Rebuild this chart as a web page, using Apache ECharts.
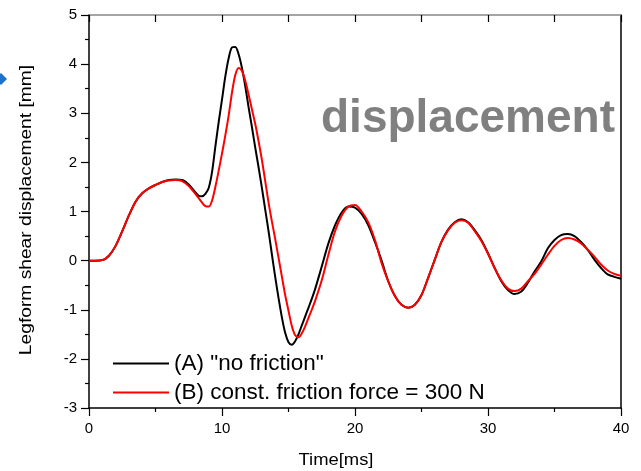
<!DOCTYPE html>
<html>
<head>
<meta charset="utf-8">
<script src="https://cdn.jsdelivr.net/npm/echarts@6/dist/echarts.min.js"></script>
<style>html,body{margin:0;padding:0;background:#fff;}#c{width:641px;height:471px;}</style>
</head>
<body>
<div id="c"></div>
<script>
var time = [0,0.5,1,1.5,2,2.5,3,3.5,4,4.5,5,5.5,6,6.5,7,7.5,
  8,8.25,8.5,8.75,9,9.25,9.5,9.75,10,10.25,10.5,10.75,11,11.25,11.5,11.75,12,12.25,12.5,12.75,13,13.25,13.5,13.75,14,14.25,14.5,14.75,15,15.25,15.5,15.75,16,16.25,16.5,16.75,17,
  17.5,18,18.5,19,19.5,20,20.5,21,21.5,22,22.5,23,23.5,24,24.5,25,25.5,26,26.5,27,27.5,28,28.5,29,29.5,30,30.5,31,31.5,32,32.5,33,33.5,34,34.5,35,35.5,36,36.5,37,37.5,38,38.5,39,39.5,40];
var seriesA = [0,0,0.01,0.1,0.3,0.6,0.92,1.2,1.37,1.47,1.54,1.6,1.64,1.65,1.64,1.55,
  1.39,1.32,1.31,1.36,1.48,1.8,2.32,2.82,3.28,3.75,4.12,4.34,4.35,4.2,3.92,3.55,3.12,2.72,2.3,1.9,1.48,1.04,0.6,0.13,-0.33,-0.76,-1.15,-1.47,-1.66,-1.71,-1.64,-1.5,-1.32,-1.14,-0.96,-0.78,-0.58,
  -0.12,0.35,0.72,0.98,1.1,1.08,0.95,0.72,0.38,0.0,-0.42,-0.72,-0.9,-0.96,-0.9,-0.7,-0.35,0.02,0.38,0.63,0.78,0.84,0.78,0.62,0.42,0.15,-0.15,-0.42,-0.6,-0.68,-0.63,-0.45,-0.22,-0.02,0.25,0.42,0.52,0.54,0.5,0.38,0.22,0.02,-0.15,-0.28,-0.33,-0.37];
var seriesB = [0,0,0.01,0.1,0.3,0.6,0.92,1.2,1.37,1.47,1.54,1.6,1.63,1.64,1.62,1.52,
  1.36,1.27,1.18,1.11,1.1,1.22,1.5,1.83,2.18,2.55,2.95,3.42,3.78,3.92,3.86,3.66,3.38,3.08,2.78,2.43,2.05,1.62,1.18,0.8,0.44,0.06,-0.32,-0.7,-1.02,-1.33,-1.52,-1.56,-1.48,-1.34,-1.17,-1.0,-0.82,
  -0.4,0.12,0.6,0.92,1.1,1.13,1.0,0.78,0.42,-0.05,-0.42,-0.72,-0.9,-0.96,-0.9,-0.7,-0.35,0.02,0.38,0.62,0.77,0.82,0.77,0.6,0.4,0.14,-0.15,-0.4,-0.57,-0.62,-0.57,-0.42,-0.27,-0.08,0.12,0.3,0.42,0.46,0.43,0.35,0.22,0.08,-0.08,-0.2,-0.27,-0.31];
var xTicks = [0,10,20,30,40];
var yTicks = [-3,-2,-1,0,1,2,3,4,5];
var legendNames = ['(A) "no friction"', '(B) const. friction force = 300 N'];
var xName = 'Time[ms]';
var yName = 'Legform shear displacement [mm]';
var overlayText = 'displacement';

function pairs(v){ return time.map(function(t,i){ return [t, v[i]]; }); }

var chart = echarts.init(document.getElementById('c'), null, {renderer:'canvas'});
var font = 'Liberation Sans, Arial, sans-serif';
chart.setOption({
  animation:false,
  backgroundColor:'#fff',
  grid:{left:89, right:20, top:15, bottom:63, containLabel:false},
  legend:{
    show:true, left:108, top:347, orient:'vertical', itemGap:6,
    itemWidth:56, itemHeight:24, icon:'path://M0,11 L56,11 L56,13 L0,13 Z',
    textStyle:{fontFamily:font, fontSize:22.5, color:'#000', padding:[0,0,0,0]},
    data:legendNames
  },
  xAxis:[{
    type:'value', min:0, max:40, interval:10, position:'bottom',
    axisLine:{show:true, onZero:false, lineStyle:{color:'#000', width:1.5}},
    axisTick:{show:true, inside:false, length:8, lineStyle:{color:'#000', width:1.2}},
    minorTick:{show:true, splitNumber:2, length:4, lineStyle:{color:'#000', width:1.2}},
    axisLabel:{fontFamily:font, fontSize:15, color:'#000', margin:13, formatter:function(v){return xTicks.indexOf(v)>=0?String(v):'';}},
    splitLine:{show:false}
  },{
    type:'value', min:0, max:40, interval:5, position:'top',
    axisLine:{show:true, onZero:false, lineStyle:{color:'#888', width:1.5}},
    axisTick:{show:true, inside:true, length:7, lineStyle:{color:'#000', width:1.2}},
    axisLabel:{show:false}, splitLine:{show:false}
  }],
  yAxis:[{
    type:'value', min:-3, max:5, interval:1, position:'left',
    axisLine:{show:true, onZero:false, lineStyle:{color:'#000', width:1.5}},
    axisTick:{show:true, inside:false, length:8, lineStyle:{color:'#000', width:1.2}},
    minorTick:{show:true, splitNumber:2, length:4, lineStyle:{color:'#000', width:1.2}},
    axisLabel:{fontFamily:font, fontSize:15, color:'#000', margin:12, formatter:function(v){return yTicks.indexOf(v)>=0?String(v):'';}},
    splitLine:{show:false}
  },{
    type:'value', min:-3, max:5, interval:1, position:'right',
    axisLine:{show:true, onZero:false, lineStyle:{color:'#000', width:1.5}},
    axisTick:{show:false}, axisLabel:{show:false}, splitLine:{show:false}
  }],
  series:[{
    name:legendNames[0], type:'line', data:pairs(seriesA), smooth:0.3, showSymbol:false,
    lineStyle:{color:'#000', width:2}, itemStyle:{color:'#000'}, z:2
  },{
    name:legendNames[1], type:'line', data:pairs(seriesB), smooth:0.3, showSymbol:false,
    lineStyle:{color:'#ff0000', width:2}, itemStyle:{color:'#ff0000'}, z:3
  }],
  graphic:[{
    type:'text', style:{x:615, y:142, text:overlayText, textAlign:'right', textVerticalAlign:'bottom', verticalAlign:'bottom',
      font:'bold 46px Liberation Sans, Arial, sans-serif', fill:'#808080'}, z:10
  },{
    type:'text', x:336, y:461, scaleX:1.15,
    style:{x:0, y:0, text:xName, textAlign:'center', textVerticalAlign:'middle', verticalAlign:'middle',
      font:'16px Liberation Sans, Arial, sans-serif', fill:'#000'}, z:10
  },{
    type:'text', x:27, y:210, rotation:Math.PI/2, scaleX:1.2,
    style:{x:0, y:0, text:yName, textAlign:'center', textVerticalAlign:'middle', verticalAlign:'middle',
      font:'16px Liberation Sans, Arial, sans-serif', fill:'#000'}, z:10
  },{
    type:'polygon', shape:{points:[[1,73],[7,79],[1,85],[-5,79]]}, style:{fill:'#1a73c8'}, z:10
  }]
});
</script>
</body>
</html>
